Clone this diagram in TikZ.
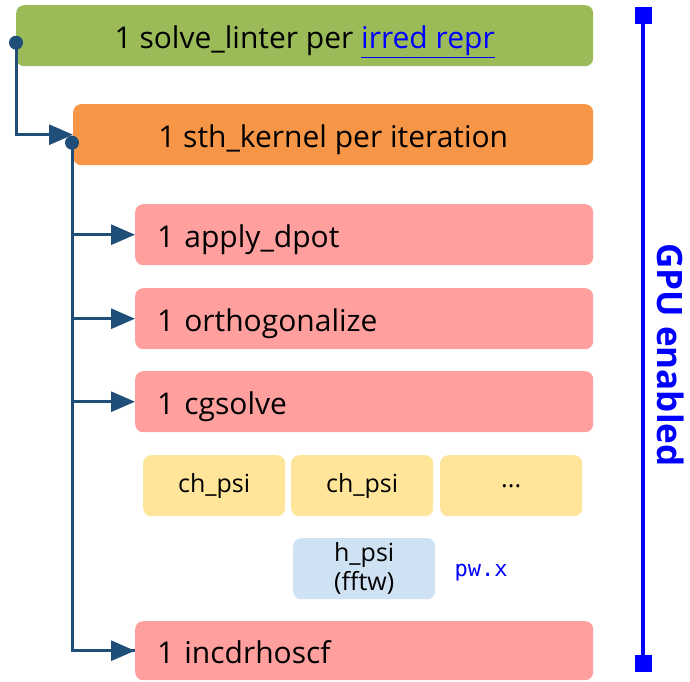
\documentclass[tikz,border=0pt]{standalone}
\usepackage{fontspec}
\setmainfont{Open Sans}
\setmonofont{DejaVu Sans Mono}
\usetikzlibrary{arrows.meta, positioning, calc}
\definecolor{solverGreen}{HTML}{9BBB59}
\definecolor{kernelOrange}{HTML}{F79646}
\definecolor{stepRed}{HTML}{FFA09E}
\definecolor{psiYellow}{HTML}{FFE59A}
\definecolor{fftBlue}{HTML}{CFE2F3}
\definecolor{flowDark}{HTML}{1F4E79}
\definecolor{gpuBlue}{HTML}{0000FF}

\begin{document}
\begin{tikzpicture}[x=1pt, y=-1pt,
    box/.style={anchor=north west, rounded corners=8pt, inner ysep=0pt, minimum height=61pt, text height=30pt, text depth=5pt, font=\fontsize{30}{34}\selectfont},
    stepbox/.style={box, fill=stepRed, text width=414pt, inner xsep=22pt, align=left},
    psibox/.style={anchor=north west, rounded corners=8pt, inner sep=0pt, minimum width=142pt, minimum height=61pt, align=center, font=\fontsize{25}{29}\selectfont},
    flow/.style={flowDark, line width=3pt},
    arrow/.style={flow, -{Triangle[length=24pt,width=20pt]}},
    dot/.style={fill=flowDark},
]
    \useasboundingbox (0,0) rectangle (690,681);

    % Outer loops
    \node[box, fill=solverGreen, minimum width=577pt] (solver) at (16,5)
        {1 solve\_linter per \textcolor{gpuBlue}{\underline{irred repr}}};
    \node[box, fill=kernelOrange, minimum width=520pt] (kernel) at (73,104)
        {1 sth\_kernel per iteration};

    % Steps of one iteration
    \node[stepbox] (dpot) at (135,204) {1 apply\_dpot};
    \node[stepbox] (ortho) at (135,288) {1 orthogonalize};
    \node[stepbox] (cg) at (135,371) {1 cgsolve};
    \node[stepbox, minimum height=59pt] (incd) at (135,621) {1 incdrhoscf};

    % Inside cgsolve
    \node[psibox, fill=psiYellow] (chpsiA) at (143,455) {ch\_psi};
    \node[psibox, fill=psiYellow] (chpsiB) at (291,455) {ch\_psi};
    \node[psibox, fill=psiYellow] (chpsiC) at (440,455) {...};
    \node[psibox, fill=fftBlue] (hpsi) at (293,538) {h\_psi\\(fftw)};
    \node[font=\ttfamily\fontsize{22}{26}\selectfont, text=gpuBlue, anchor=west] (pwx) at (451,573) {pw.x};

    % Connectors
    \coordinate (solverdot) at ([yshift=-7pt]solver.west);
    \coordinate (kerneldot) at ([xshift=-1pt,yshift=-8pt]kernel.west);
    \draw[arrow] (solverdot) |- (kernel.west);
    \draw[flow] (kerneldot) |- (incd.west);
    \draw[arrow] (kerneldot |- incd.west) -- (incd.west);
    \draw[arrow] (kerneldot |- dpot.west) -- (dpot.west);
    \draw[arrow] (kerneldot |- ortho.west) -- (ortho.west);
    \draw[arrow] (kerneldot |- cg.west) -- (cg.west);
    \fill[dot] (solverdot) circle (7pt);
    \fill[dot] (kerneldot) circle (7pt);

    % GPU bar
    \coordinate (gputop) at (643,7);
    \coordinate (gpubot) at (643,672);
    \draw[gpuBlue, line width=4pt, {Square[length=17pt,width=17pt]}-{Square[length=17pt,width=17pt]}] (gputop) -- (gpubot);
    \node[rotate=-90, text=gpuBlue, font=\bfseries\fontsize{35}{40}\selectfont] (gpu) at (671,355) {GPU enabled};
\end{tikzpicture}
\end{document}
